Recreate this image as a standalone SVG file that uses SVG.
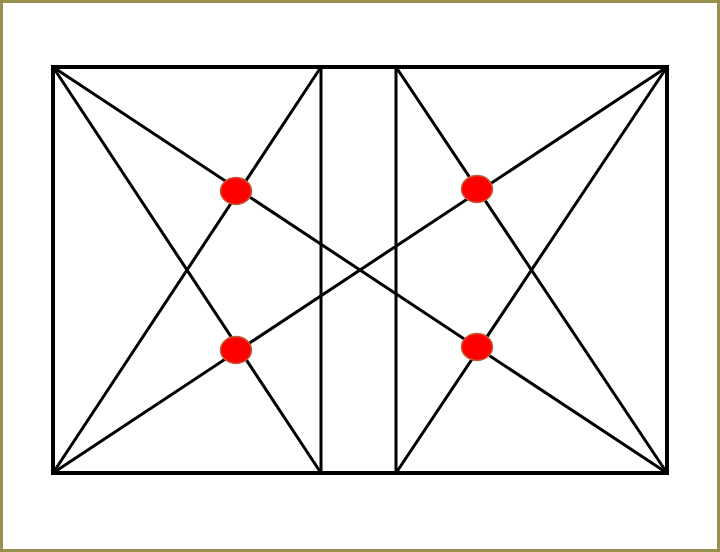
<svg xmlns="http://www.w3.org/2000/svg" width="720" height="552" viewBox="0 0 720 552">
<style>
.ln{stroke:#000;stroke-width:3;fill:none;stroke-linecap:round}
.dot{fill:#ff0000;stroke:#c0603a;stroke-width:1.5}
</style>
<rect x="0" y="0" width="720" height="552" fill="#fff"/>
<rect x="1.5" y="1.5" width="717" height="549" fill="none" stroke="#9a9050" stroke-width="3"/>
<g id="connectors">
<rect x="53" y="67" width="614" height="406" fill="none" stroke="#000" stroke-width="4"/>
<line class="ln" x1="321" y1="67" x2="321" y2="473"/>
<line class="ln" x1="396" y1="67" x2="396" y2="473"/>
<line class="ln" x1="53" y1="67" x2="667" y2="473"/>
<line class="ln" x1="53" y1="473" x2="667" y2="67"/>
<line class="ln" x1="53" y1="67" x2="321" y2="473"/>
<line class="ln" x1="53" y1="473" x2="321" y2="67"/>
<line class="ln" x1="667" y1="67" x2="396" y2="473"/>
<line class="ln" x1="667" y1="473" x2="396" y2="67"/>
</g>
<g id="dot-tl"><ellipse class="dot" cx="236" cy="191" rx="15.5" ry="13.5"/></g>
<g id="dot-bl"><ellipse class="dot" cx="236" cy="350" rx="15.5" ry="13.5"/></g>
<g id="dot-tr"><ellipse class="dot" cx="477" cy="189" rx="15.5" ry="13.5"/></g>
<g id="dot-br"><ellipse class="dot" cx="477" cy="347" rx="15.5" ry="13.5"/></g>
</svg>
